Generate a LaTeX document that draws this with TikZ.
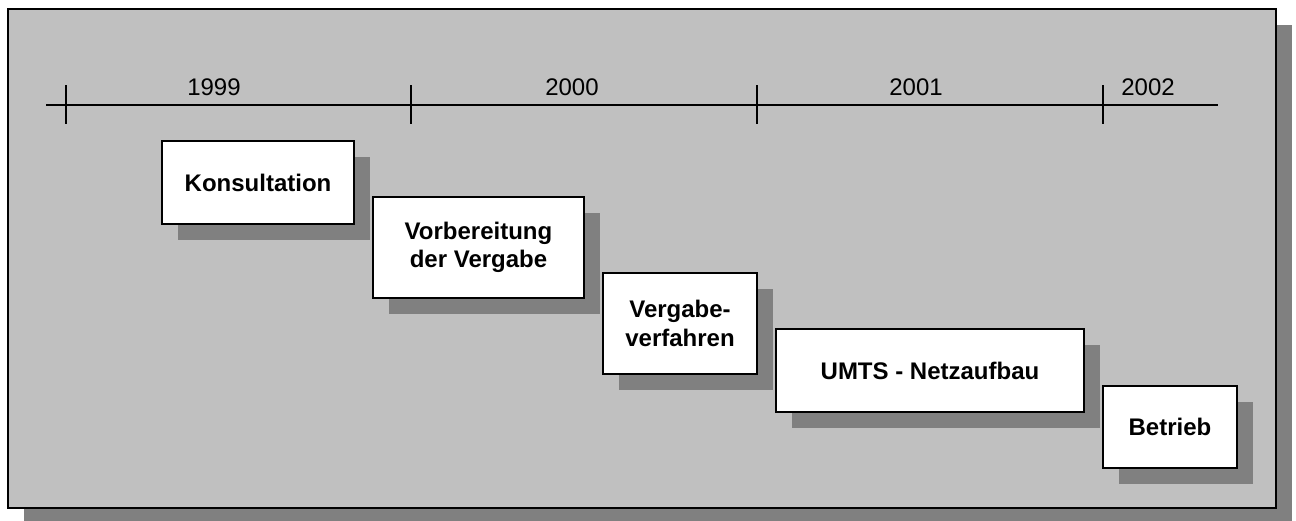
\documentclass[tikz,border=0pt]{standalone}
\usepackage{fontspec}
\setmainfont{Liberation Sans}
\usetikzlibrary{shadows}
\definecolor{bggray}{HTML}{C0C0C0}
\definecolor{shgray}{HTML}{808080}
\tikzset{
  phasebox/.style={draw=black, line width=2pt, fill=white, inner sep=0pt, align=center,
    font=\fontsize{24}{28.5}\selectfont\bfseries,
    drop shadow={shadow xshift=16pt, shadow yshift=-16pt, fill=shgray, opacity=1}},
  yearlabel/.style={anchor=base, inner sep=0pt, font=\fontsize{24}{28}\selectfont},
  axisline/.style={line width=1.6pt},
  tickline/.style={line width=1.6pt},
}
\begin{document}
\begin{tikzpicture}[x=1pt,y=-1pt]
\useasboundingbox (0,0) rectangle (1296,520);
% frame with shadow
\fill[shgray] (24,25) rectangle (1292,524);
\draw[line width=2pt, fill=bggray] (8,9) rectangle (1276,508);
% timeline
\coordinate (axL) at (46,105);
\coordinate (axR) at (1218,105);
\draw[axisline] (axL) -- (axR);
\foreach \n/\x in {t1/66,t2/411,t3/757,t4/1103}{
  \coordinate (\n top) at (\x,85);
  \coordinate (\n bot) at (\x,124);
  \draw[tickline] (\n top) -- (\n bot);
}
\node[yearlabel] (y1999) at (214,95) {1999};
\node[yearlabel] (y2000) at (572,95) {2000};
\node[yearlabel] (y2001) at (916,95) {2001};
\node[yearlabel] (y2002) at (1148,95) {2002};
% phases
\node[phasebox, minimum width=192pt, minimum height=83pt] (kons) at (258,182.5) {Konsultation};
\node[phasebox, minimum width=211pt, minimum height=101pt] (vorb) at (478.5,247.5) {Vorbereitung\\der Vergabe};
\node[phasebox, minimum width=154pt, minimum height=101pt] (verg) at (680,323.5) {Vergabe-\\verfahren};
\node[phasebox, minimum width=308pt, minimum height=83pt] (umts) at (930,370.5) {UMTS - Netzaufbau};
\node[phasebox, minimum width=134pt, minimum height=82pt] (betr) at (1170,427) {Betrieb};
\end{tikzpicture}
\end{document}
